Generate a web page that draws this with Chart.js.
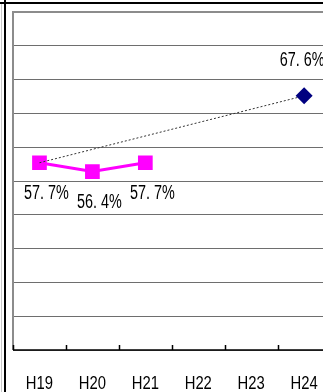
<!DOCTYPE html>
<html>
<head>
<meta charset="utf-8">
<script src="https://cdn.jsdelivr.net/npm/chart.js@4.4.1/dist/chart.umd.min.js"></script>
<style>
html,body{margin:0;padding:0;background:#fff;}
body{width:323px;height:392px;overflow:hidden;position:relative;}
#c{position:absolute;left:0;top:0;}
.hline{position:absolute;left:0;top:2px;width:323px;height:2px;background:#000;}
.vline{position:absolute;left:4px;top:0;width:2px;height:392px;background:#000;}
.gline{position:absolute;left:1px;top:4px;width:1px;height:388px;background:#c8c8c8;}
</style>
</head>
<body>
<canvas id="c" width="341" height="392"></canvas>
<div class="gline"></div>
<div class="hline"></div>
<div class="vline"></div>
<script>
const years=["H19","H20","H21","H22","H23","H24"];
const rateSeries=[57.7,56.4,57.7,null,null,null];
const trendSeries=[57.7,null,null,null,null,67.6];
const yMin=30, yMax=80, yStep=5;

const txtFont='"Liberation Sans",Arial,sans-serif';

function fmt(v){
const s=v.toFixed(1).split(".");
return s[0]+". "+s[1]+"%";
}

// narrow text: draw squeezed horizontally
function narrowText(ctx,str,x,y,size,sx){
ctx.save();
ctx.translate(x,y);
ctx.scale(sx,1);
ctx.font=size+"px "+txtFont;
ctx.fillStyle="#000";
ctx.textAlign="center";
ctx.textBaseline="middle";
ctx.fillText(str,0,0);
ctx.restore();
}

// plot frame, inward ticks and category names
const framePlugin={
id:"frame",
beforeDatasetsDraw(chart){
const {ctx,chartArea:a,scales:{x}}=chart;
ctx.save();
ctx.strokeStyle="#8c8c8c";
ctx.lineWidth=2;
ctx.beginPath();
ctx.moveTo(a.left,a.bottom);
ctx.lineTo(a.left,a.top);
ctx.lineTo(a.right+5,a.top);
ctx.stroke();
ctx.strokeStyle="#000";
ctx.lineWidth=1.5;
ctx.beginPath();
ctx.moveTo(a.left,a.bottom);
ctx.lineTo(a.right+5,a.bottom);
const half=(x.getPixelForValue(1)-x.getPixelForValue(0))/2;
for(let i=0;i<=years.length;i++){
const px=Math.round(x.getPixelForValue(i)-half)+0.5;
ctx.moveTo(px,a.bottom);
ctx.lineTo(px,a.bottom-5);
}
ctx.stroke();
ctx.restore();
years.forEach((yr,i)=>{
narrowText(ctx,yr,x.getPixelForValue(i),a.bottom+34,19,0.78);
});
}
};

// value labels
const labelPlugin={
id:"vlabels",
afterDatasetsDraw(chart){
const ctx=chart.ctx;
chart.data.datasets.forEach((ds,di)=>{
const meta=chart.getDatasetMeta(di);
meta.data.forEach((pt,i)=>{
const v=ds.data[i];
if(v==null) return;
if(di===1){
narrowText(ctx,fmt(v),pt.x+7,pt.y+31,20,0.72);
}else if(i===ds.data.length-1){
narrowText(ctx,fmt(v),pt.x-2,pt.y-35,20,0.72);
}
});
});
}
};

new Chart(document.getElementById("c"),{
type:"line",
data:{
labels:years,
datasets:[
{
data:trendSeries,
spanGaps:true,
borderColor:"#333",
borderWidth:1,
borderDash:[2,2],
pointStyle:"rectRot",
pointRadius:[0,0,0,0,0,8.5],
pointBackgroundColor:"#000080",
pointBorderColor:"#000080",
pointBorderWidth:0,
order:0
},
{
data:rateSeries,
borderColor:"#ff00ff",
borderWidth:3,
pointStyle:"rect",
pointRadius:10.4,
pointBackgroundColor:"#ff00ff",
pointBorderColor:"#ff00ff",
pointBorderWidth:0,
order:1
}
]
},
options:{
responsive:false,
animation:false,
layout:{padding:{left:13,top:12,right:0,bottom:0}},
plugins:{legend:{display:false},tooltip:{enabled:false}},
scales:{
x:{
offset:true,
grid:{display:false,drawTicks:false},
border:{display:false},
ticks:{display:false},
afterFit(s){s.height=42;}
},
y:{
min:yMin,max:yMax,
ticks:{stepSize:yStep,display:false},
grid:{color:"#6e6e6e",lineWidth:1,drawTicks:false},
border:{display:false},
afterFit(s){s.width=0;}
}
}
},
plugins:[framePlugin,labelPlugin]
});
</script>
</body>
</html>
